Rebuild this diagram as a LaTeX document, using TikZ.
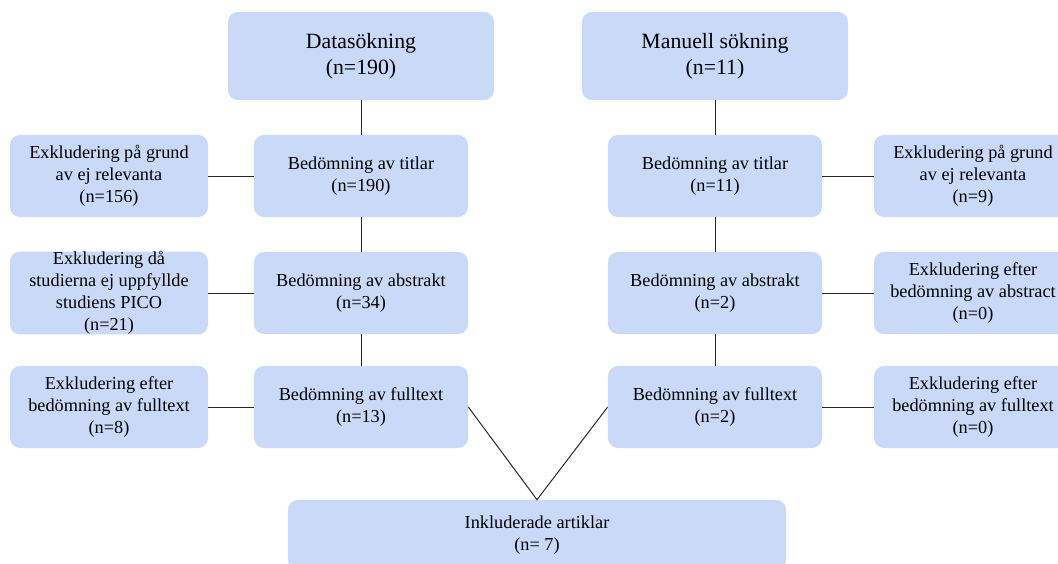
\documentclass[tikz,border=0pt]{standalone}
\usepackage{fontspec}
\setmainfont{Liberation Serif}
\definecolor{boxblue}{RGB}{201,218,248}
\tikzset{
  box/.style={fill=boxblue, rounded corners=0.25cm, align=center, inner sep=0pt,
    minimum width=5.35cm, minimum height=2.05cm, font=\fontsize{13}{15.6}\selectfont},
  exbox/.style={box, minimum width=4.95cm},
  topbox/.style={box, minimum width=6.65cm, minimum height=2.2cm, font=\fontsize{15.5}{18.5}\selectfont},
  link/.style={line width=0.7pt, black!85}
}
\begin{document}
\begin{tikzpicture}[x=0.025cm,y=-0.025cm]
  \useasboundingbox (0,0) rectangle (1058,564);

  \node[topbox] (dataS) at (361,56) {Datasökning\\(n=190)};
  \node[topbox] (manS) at (715,56) {Manuell sökning\\(n=11)};

  \node[box] (titlarL) at (361,176) {Bedömning av titlar\\(n=190)};
  \node[box] (abstraktL) at (361,293) {Bedömning av abstrakt\\(n=34)};
  \node[box] (fulltextL) at (361,407) {Bedömning av fulltext\\(n=13)};
  \node[exbox] (exTitlarL) at (109,176) {Exkludering på grund\\av ej relevanta\\(n=156)};
  \node[exbox] (exAbstraktL) at (109,293) {Exkludering då\\studierna ej uppfyllde\\studiens PICO\\(n=21)};
  \node[exbox] (exFulltextL) at (109,407) {Exkludering efter\\bedömning av fulltext\\(n=8)};

  \node[box] (titlarR) at (715,176) {Bedömning av titlar\\(n=11)};
  \node[box] (abstraktR) at (715,293) {Bedömning av abstrakt\\(n=2)};
  \node[box] (fulltextR) at (715,407) {Bedömning av fulltext\\(n=2)};
  \node[exbox] (exTitlarR) at (973,176) {Exkludering på grund\\av ej relevanta\\(n=9)};
  \node[exbox] (exAbstraktR) at (973,293) {Exkludering efter\\bedömning av abstract\\(n=0)};
  \node[exbox] (exFulltextR) at (973,407) {Exkludering efter\\bedömning av fulltext\\(n=0)};

  \node[box, minimum width=12.45cm, minimum height=1.75cm] (incl) at (537,535) {Inkluderade artiklar\\(n= 7)};

  \draw[link] (dataS) -- (titlarL) -- (abstraktL) -- (fulltextL);
  \draw[link] (manS) -- (titlarR) -- (abstraktR) -- (fulltextR);
  \draw[link] (exTitlarL) -- (titlarL);
  \draw[link] (exAbstraktL) -- (abstraktL);
  \draw[link] (exFulltextL) -- (fulltextL);
  \draw[link] (titlarR) -- (exTitlarR);
  \draw[link] (abstraktR) -- (exAbstraktR);
  \draw[link] (fulltextR) -- (exFulltextR);
  \draw[link] (fulltextL.east) -- (incl.north) -- (fulltextR.west);
\end{tikzpicture}
\end{document}
